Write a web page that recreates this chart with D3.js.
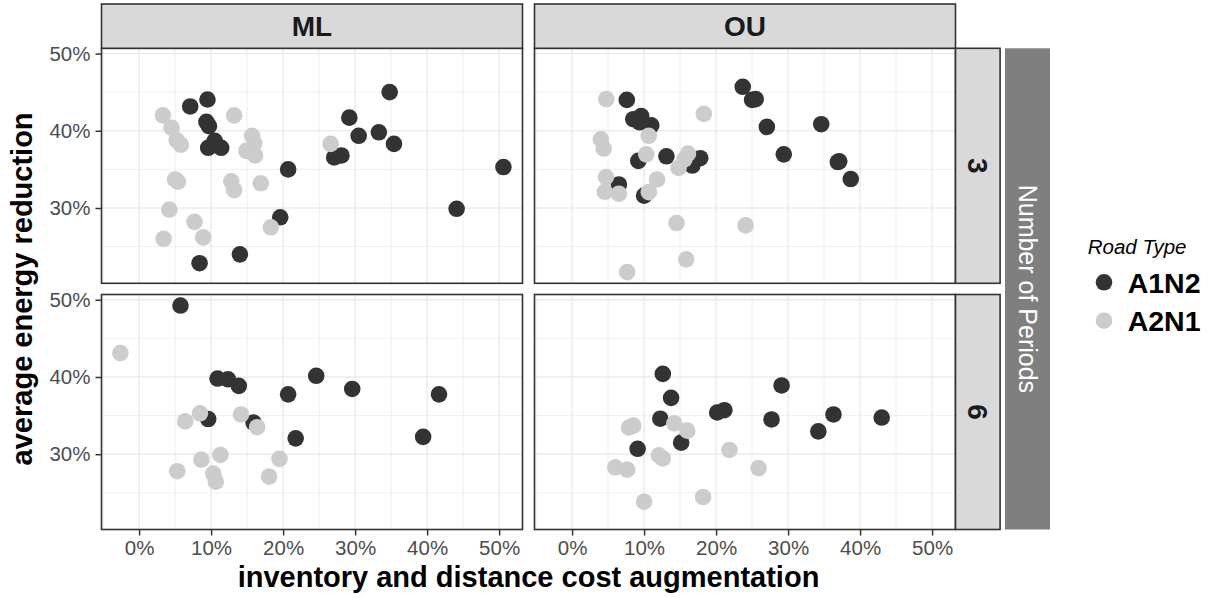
<!DOCTYPE html>
<html>
<head>
<meta charset="utf-8">
<script src="https://cdn.jsdelivr.net/npm/d3@7"></script>
<style>
  body { margin: 0; background: #fff; }
  svg { display: block; font-family: "Liberation Sans", Arial, sans-serif; }
</style>
</head>
<body>
<div id="vis"></div>
<script>
// facets
const methods = ["ML", "OU"];
const periods = ["3", "6"];
const roadTypes = ["A1N2", "A2N1"];

// [cost augmentation %, energy reduction %]
const ml3_A1N2 = [[34.8,45.0],[7.1,43.15],[9.5,44.05],[9.35,41.15],[9.7,40.6],[10.5,38.7],[9.6,37.8],[11.4,37.8],[29.2,41.7],[30.5,39.35],[33.3,39.8],[35.4,38.3],[27.1,36.55],[28.1,36.8],[20.7,35.0],[50.6,35.3],[44.1,29.9],[19.6,28.8],[14.0,24.0],[8.4,22.85]];
const ml3_A2N1 = [[3.3,42.0],[4.5,40.4],[5.2,38.8],[5.8,38.2],[13.2,42.0],[15.7,39.35],[16.0,38.4],[14.9,37.4],[16.1,36.8],[26.6,38.3],[5.0,33.7],[5.4,33.4],[12.8,33.45],[13.2,32.3],[16.9,33.2],[4.2,29.8],[7.7,28.2],[3.4,26.0],[8.9,26.2],[18.3,27.5]];
const ou3_A1N2 = [[23.7,45.7],[25.0,44.0],[25.5,44.1],[7.6,44.0],[8.5,41.5],[9.6,41.9],[9.4,41.1],[11.0,40.7],[27.05,40.5],[34.6,40.85],[29.4,36.95],[36.9,35.95],[37.1,36.05],[38.7,33.75],[13.1,36.7],[9.2,36.1],[17.8,36.45],[16.7,35.5],[6.5,33.05],[10.0,31.6]];
const ou3_A2N1 = [[4.75,44.1],[18.3,42.2],[4.0,38.9],[4.4,37.7],[10.65,39.35],[10.3,36.95],[16.1,37.05],[15.6,36.3],[14.8,35.2],[11.8,33.7],[4.7,34.0],[4.55,32.1],[6.5,31.85],[10.65,32.05],[14.5,28.05],[24.1,27.75],[15.85,23.35],[7.65,21.7]];
const ml6_A1N2 = [[5.75,49.25],[10.9,39.8],[12.35,39.7],[13.85,38.85],[24.6,40.15],[20.7,37.75],[29.6,38.45],[41.65,37.75],[9.6,34.55],[15.9,34.1],[21.75,32.05],[39.45,32.25]];
const ml6_A2N1 = [[-2.6,43.1],[8.45,35.3],[6.4,34.25],[14.15,35.15],[16.4,33.5],[11.3,29.9],[8.65,29.3],[19.5,29.4],[5.3,27.8],[10.3,27.5],[10.65,26.45],[18.05,27.1]];
const ou6_A1N2 = [[12.6,40.4],[13.75,37.3],[12.25,34.6],[15.15,31.5],[9.1,30.7],[20.15,35.4],[21.15,35.7],[29.1,38.9],[27.7,34.5],[36.3,35.15],[34.2,32.95],[43.0,34.75]];
const ou6_A2N1 = [[7.9,33.45],[8.5,33.7],[14.2,34.0],[16.0,33.05],[21.85,30.55],[12.05,29.85],[12.6,29.45],[6.0,28.3],[7.65,28.0],[25.9,28.2],[10.0,23.85],[18.2,24.45]];

const xTicks = [0, 10, 20, 30, 40, 50];
const yTicks = [30, 40, 50];

const panels = {
  "ML|3": { A1N2: ml3_A1N2, A2N1: ml3_A2N1 },
  "OU|3": { A1N2: ou3_A1N2, A2N1: ou3_A2N1 },
  "ML|6": { A1N2: ml6_A1N2, A2N1: ml6_A2N1 },
  "OU|6": { A1N2: ou6_A1N2, A2N1: ou6_A2N1 },
};

const colors = { A1N2: "#333333", A2N1: "#CCCCCC" };

const W = 1219, H = 598;
const panelLeft = [101.5, 534.5], panelW = 421;
const panelTop = [48.3, 294.5], panelH = 235;
const stripTop = 4;

const svg = d3.select("#vis").append("svg")
  .attr("width", W).attr("height", H);

const xDomain = [-5.22, 53.25];
const yDomain = [20.25, 50.68];

methods.forEach(function (m, ci) {
  periods.forEach(function (p, ri) {
    const x0 = panelLeft[ci], y0 = panelTop[ri];
    const x = d3.scaleLinear().domain(xDomain).range([x0, x0 + panelW]);
    const y = d3.scaleLinear().domain(yDomain).range([y0 + panelH, y0]);
    const g = svg.append("g").attr("class", "panel");

    g.append("rect").attr("x", x0).attr("y", y0)
      .attr("width", panelW).attr("height", panelH).attr("fill", "#fff");

    // minor grid
    const xMinor = d3.range(-5, 55, 10).filter(v => v > xDomain[0] && v < xDomain[1]);
    const yMinor = [25, 35, 45];
    g.selectAll(".xmin").data(xMinor).enter().append("line")
      .attr("x1", d => x(d)).attr("x2", d => x(d))
      .attr("y1", y0).attr("y2", y0 + panelH)
      .attr("stroke", "#EBEBEB").attr("stroke-width", 0.8);
    g.selectAll(".ymin").data(yMinor).enter().append("line")
      .attr("y1", d => y(d)).attr("y2", d => y(d))
      .attr("x1", x0).attr("x2", x0 + panelW)
      .attr("stroke", "#EBEBEB").attr("stroke-width", 0.8);
    // major grid
    g.selectAll(".xmaj").data(xTicks).enter().append("line")
      .attr("x1", d => x(d)).attr("x2", d => x(d))
      .attr("y1", y0).attr("y2", y0 + panelH)
      .attr("stroke", "#EBEBEB").attr("stroke-width", 1.5);
    g.selectAll(".ymaj").data(yTicks).enter().append("line")
      .attr("y1", d => y(d)).attr("y2", d => y(d))
      .attr("x1", x0).attr("x2", x0 + panelW)
      .attr("stroke", "#EBEBEB").attr("stroke-width", 1.5);

    // points: A1N2 first, A2N1 on top
    roadTypes.forEach(function (rt) {
      g.selectAll(".pt-" + rt).data(panels[m + "|" + p][rt]).enter().append("circle")
        .attr("cx", d => x(d[0])).attr("cy", d => y(d[1]))
        .attr("r", 8.3).attr("fill", colors[rt]);
    });

    g.append("rect").attr("x", x0).attr("y", y0)
      .attr("width", panelW).attr("height", panelH)
      .attr("fill", "none").attr("stroke", "#333333").attr("stroke-width", 1.6);

    // axes
    if (ci === 0) {
      const ax = svg.append("g").attr("transform", "translate(" + x0 + ",0)")
        .call(d3.axisLeft(y).tickValues(yTicks).tickSize(6).tickPadding(5)
          .tickFormat(d => d + "%"));
      styleAxis(ax);
    }
    if (ri === 1) {
      const ax = svg.append("g").attr("transform", "translate(0," + (y0 + panelH) + ")")
        .call(d3.axisBottom(x).tickValues(xTicks).tickSize(6).tickPadding(5)
          .tickFormat(d => d + "%"));
      styleAxis(ax);
    }
  });
});

function styleAxis(ax) {
  ax.select(".domain").remove();
  ax.selectAll(".tick line").attr("stroke", "#333333").attr("stroke-width", 1.5);
  ax.selectAll(".tick text").attr("fill", "#4D4D4D")
    .style("font-size", "20.5px").style("font-family", "'Liberation Sans', Arial, sans-serif");
}

// top strips
methods.forEach(function (m, ci) {
  const x0 = panelLeft[ci];
  svg.append("rect").attr("x", x0).attr("y", stripTop)
    .attr("width", panelW).attr("height", panelTop[0] - stripTop)
    .attr("fill", "#D9D9D9").attr("stroke", "#333333").attr("stroke-width", 1.6);
  svg.append("text").attr("x", x0 + panelW / 2).attr("y", (stripTop + panelTop[0]) / 2)
    .attr("text-anchor", "middle").attr("dy", "0.36em")
    .attr("fill", "#1A1A1A").style("font-size", "28px").style("font-weight", "bold")
    .text(m);
});

// right strips
const rsX = panelLeft[1] + panelW, rsW = 44.6;
periods.forEach(function (p, ri) {
  const y0 = panelTop[ri];
  svg.append("rect").attr("x", rsX).attr("y", y0)
    .attr("width", rsW).attr("height", panelH)
    .attr("fill", "#D9D9D9").attr("stroke", "#333333").attr("stroke-width", 1.6);
  svg.append("text")
    .attr("transform", "translate(" + (rsX + rsW / 2) + "," + (y0 + panelH / 2) + ") rotate(90)")
    .attr("text-anchor", "middle").attr("dy", "0.36em")
    .attr("fill", "#1A1A1A").style("font-size", "28px").style("font-weight", "bold")
    .text(p);
});

// outer strip
const osX = 1005, osW = 45;
svg.append("rect").attr("x", osX).attr("y", panelTop[0])
  .attr("width", osW).attr("height", panelTop[1] + panelH - panelTop[0])
  .attr("fill", "#7F7F7F");
svg.append("text")
  .attr("transform", "translate(" + (osX + osW / 2) + "," + ((panelTop[0] + panelTop[1] + panelH) / 2) + ") rotate(90)")
  .attr("text-anchor", "middle").attr("dy", "0.36em")
  .attr("fill", "#fff").style("font-size", "25px")
  .text("Number of Periods");

// axis titles
svg.append("text")
  .attr("x", (panelLeft[0] + panelLeft[1] + panelW) / 2).attr("y", 587)
  .attr("text-anchor", "middle").attr("fill", "#000")
  .style("font-size", "29px").style("font-weight", "bold")
  .text("inventory and distance cost augmentation");
svg.append("text")
  .attr("transform", "translate(22," + ((panelTop[0] + panelTop[1] + panelH) / 2) + ") rotate(-90)")
  .attr("text-anchor", "middle").attr("dy", "0.36em").attr("fill", "#000")
  .style("font-size", "29px").style("font-weight", "bold")
  .text("average energy reduction");

// legend
const lg = svg.append("g").attr("class", "legend");
lg.append("text").attr("x", 1087.7).attr("y", 254)
  .style("font-size", "20.5px").style("font-style", "italic").attr("fill", "#000")
  .text("Road Type");
roadTypes.forEach(function (rt, i) {
  const cy = 282.3 + i * 38.4;
  lg.append("circle").attr("cx", 1104).attr("cy", cy).attr("r", 8.3).attr("fill", colors[rt]);
  lg.append("text").attr("x", 1127.7).attr("y", cy).attr("dy", "0.36em")
    .style("font-size", "28.5px").style("font-weight", "bold").attr("fill", "#000")
    .text(rt);
});
</script>
</body>
</html>
